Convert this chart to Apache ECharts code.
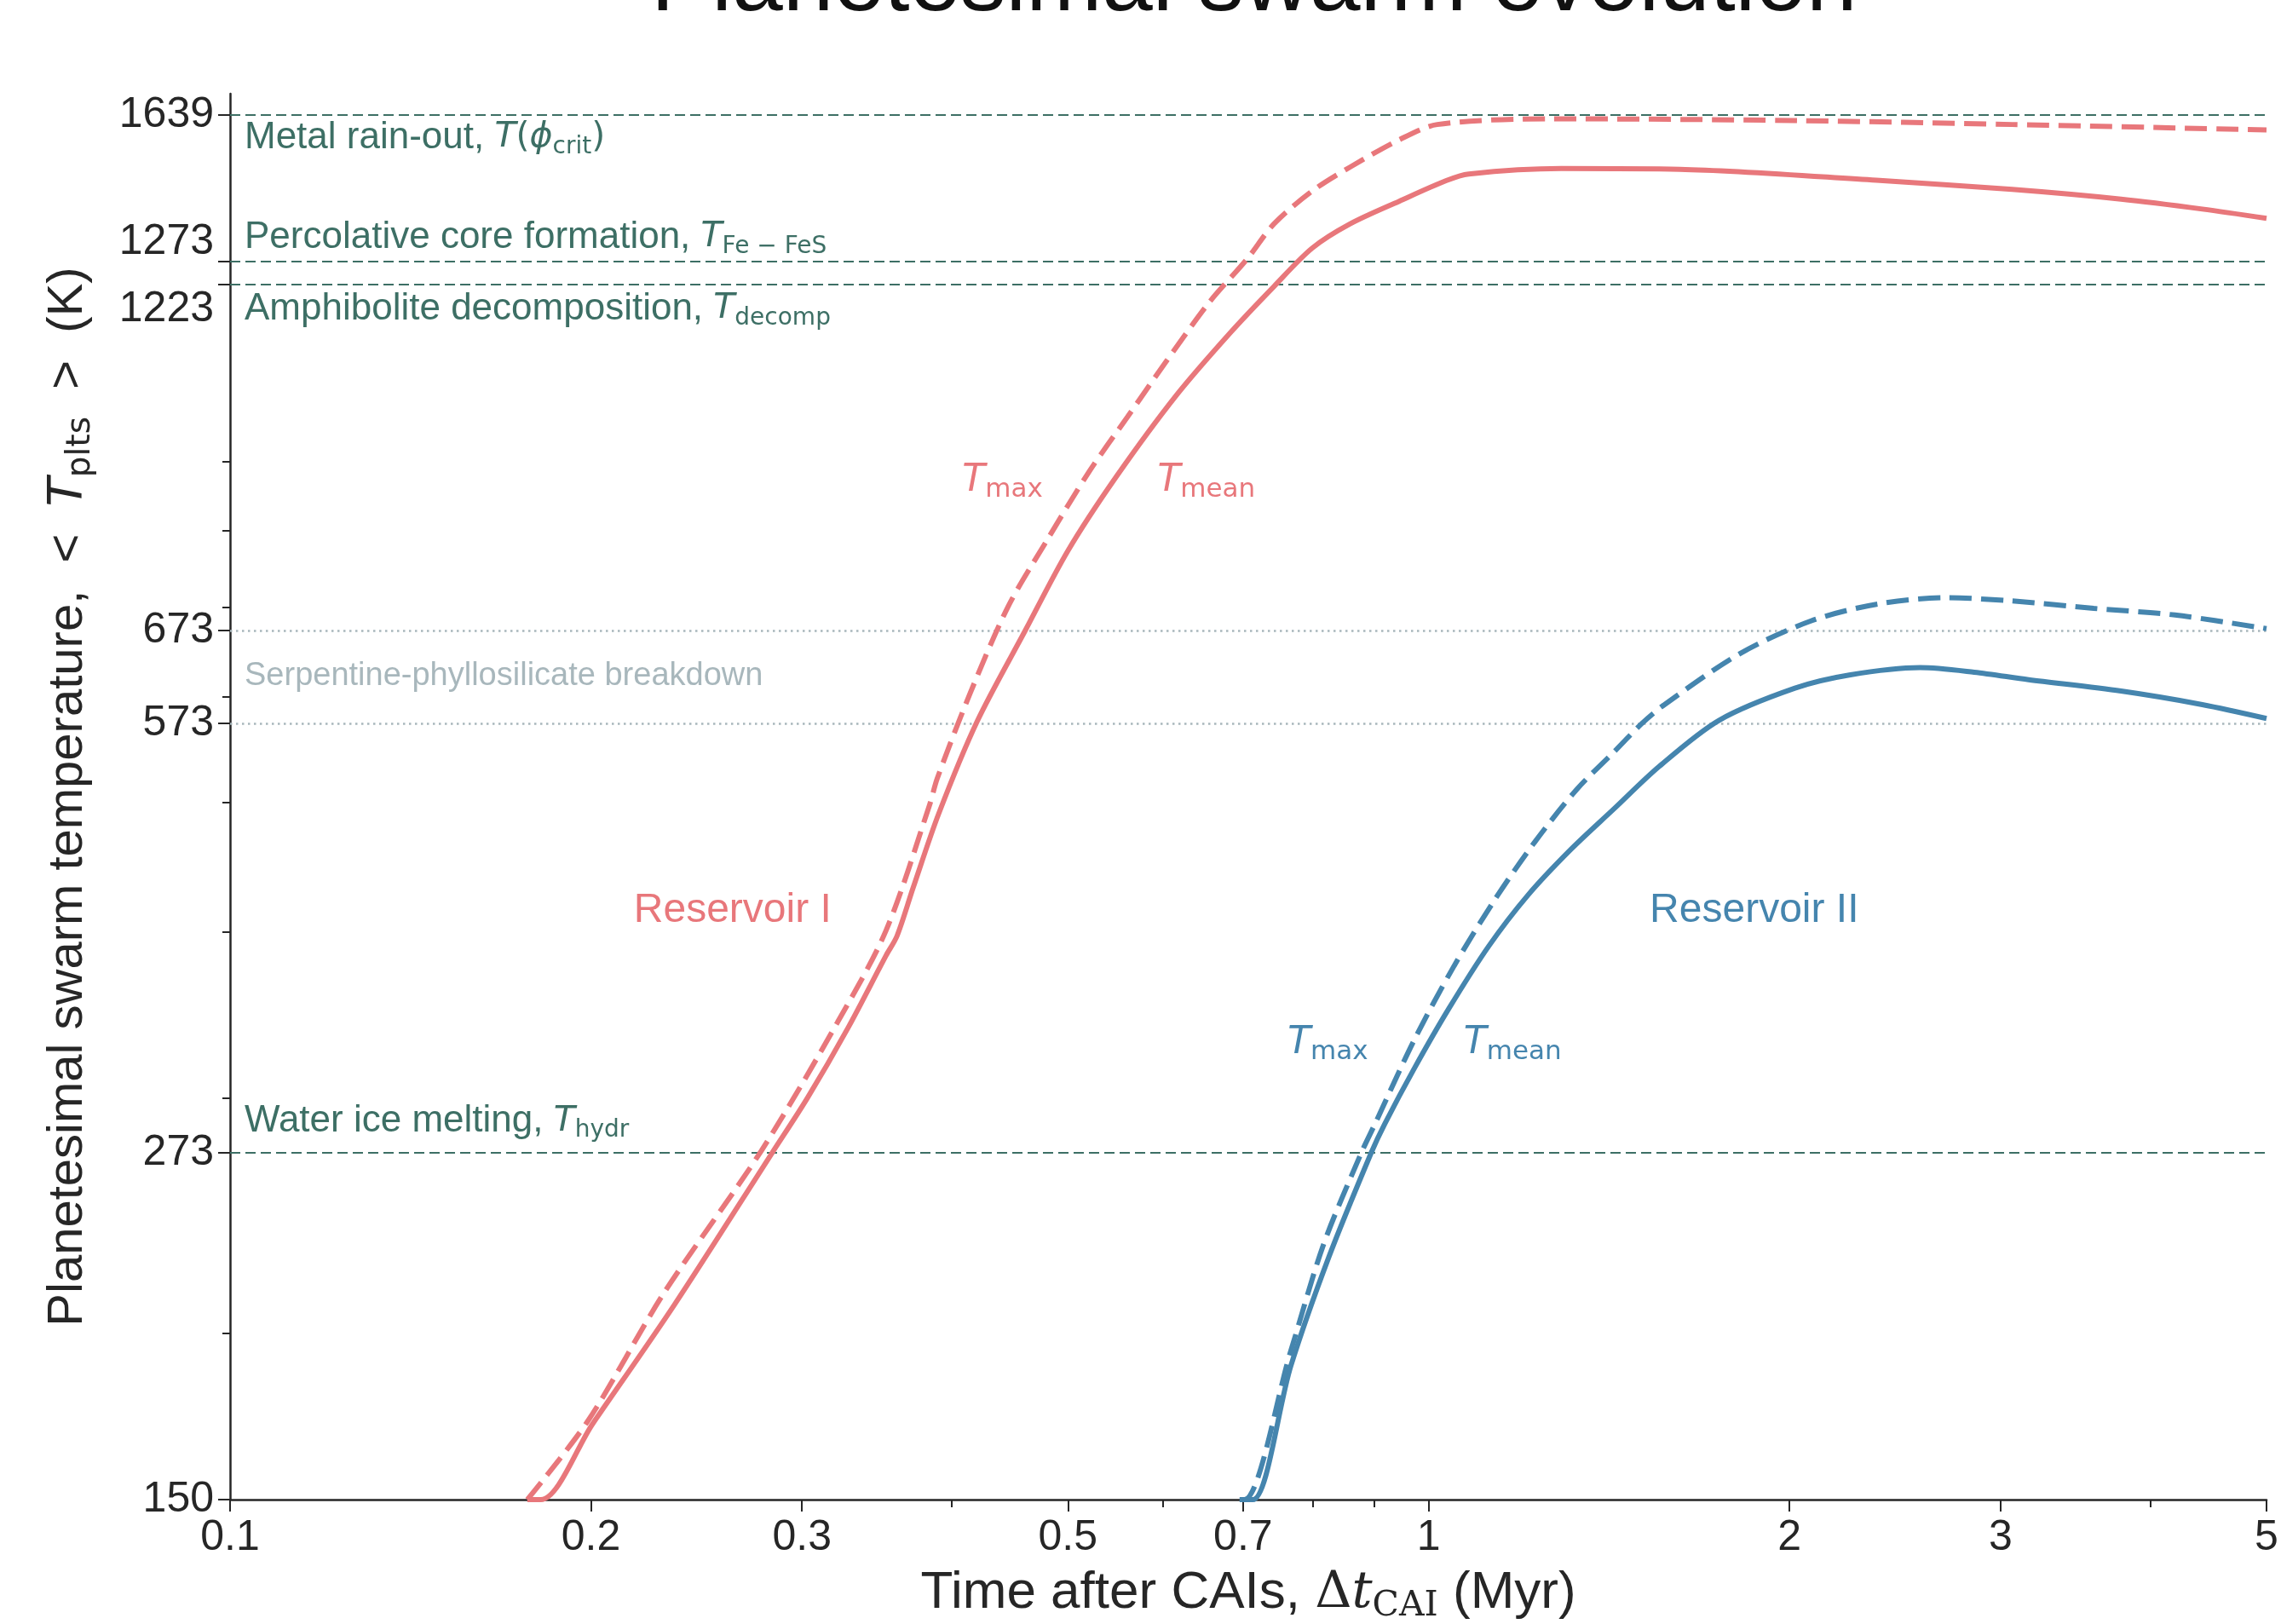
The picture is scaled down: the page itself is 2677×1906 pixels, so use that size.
<!DOCTYPE html>
<html>
<head>
<meta charset="utf-8">
<title>Planetesimal swarm evolution</title>
<script src="https://cdn.jsdelivr.net/npm/echarts@6/dist/echarts.min.js"></script>
<style>
  html, body { margin: 0; padding: 0; background: #fff; }
  #main { width: 2677px; height: 1906px; }
</style>
</head>
<body>
<div id="main"></div>
<script>
// Reservoir I (red), time after CAIs in Myr / temperature in K
var timeIMean = [0.177, 0.1817, 0.2007, 0.2348, 0.2833, 0.3031, 0.3279, 0.3527, 0.3601, 0.3716, 0.39, 0.42, 0.4608, 0.5, 0.549, 0.6159, 0.6836, 0.743, 0.7994, 0.8601, 0.945, 1.034, 1.08, 1.29, 1.62, 2.363, 3.068, 3.781, 4.42, 5];
var tempIMean = [150, 150, 171, 210, 273, 300, 339, 384, 397, 432, 490, 575, 673, 772, 878, 1010, 1126, 1219, 1302, 1358, 1412, 1463, 1480, 1494, 1492, 1464, 1441, 1417, 1393, 1371];
var timeIMax = [0.177, 0.199, 0.2299, 0.2775, 0.3212, 0.3527, 0.3834, 0.389, 0.4142, 0.4457, 0.4794, 0.5212, 0.5607, 0.6032, 0.6556, 0.7055, 0.743, 0.7994, 0.8601, 0.945, 1.0165, 1.263, 2.021, 3.068, 5];
var tempIMax = [150, 172, 214, 274, 342, 401, 498, 521, 603, 701, 784, 886, 973, 1069, 1185, 1278, 1358, 1437, 1498, 1570, 1612, 1628, 1623, 1612, 1597];

// Reservoir II (blue)
var timeIIMean = [0.6955, 0.7136, 0.7674, 0.8254, 0.8954, 0.919, 0.973, 1.039, 1.122, 1.21, 1.314, 1.426, 1.557, 1.746, 2.021, 2.243, 2.57, 2.852, 3.166, 3.781, 4.42, 5];
var tempIIMean = [150, 150, 189, 228, 273, 287, 316, 350, 390, 426, 461, 494, 532, 576, 609, 623, 631, 626, 618, 606, 592, 578];
var timeIIMax = [0.6955, 0.702, 0.7674, 0.817, 0.8786, 0.902, 0.973, 1.05, 1.134, 1.224, 1.328, 1.426, 1.506, 1.573, 1.821, 2.084, 2.363, 2.706, 3.068, 3.588, 4.195, 5];
var tempIIMax = [150, 150, 194, 233, 273, 287, 332, 377, 422, 466, 511, 545, 573, 592, 647, 684, 704, 712, 708, 699, 691, 675];

// reference temperatures (K)
var refTemps = [1639, 1273, 1223, 673, 573, 273];

// axis ticks
var xMajorTicks = [0.1, 0.2, 0.3, 0.5, 0.7, 1, 2, 3, 5];
var xMinorTicks = [0.4, 0.6, 0.8, 0.9, 4];
var yMajorTicks = [150, 273, 573, 673, 1223, 1273, 1639];
var yMinorTicks = [200, 300, 400, 500, 600, 700, 800, 900];

// where the text labels sit, in data coordinates [Myr, K]
var reservoirLabelAt = [[0.2626, 415], [1.869, 415]];
var maxLabelAt = [[0.441, 871], [0.8239, 330]];
var meanLabelAt = [[0.6524, 871], [1.175, 330]];

var RED = '#e8777b', BLUE = '#4585ae', TEAL = '#3d6f65', GREY = '#a8b7bc', INK = '#262626';
var SANS = '"Liberation Sans", Arial, Helvetica, sans-serif';
var MATH = '"DejaVu Sans", sans-serif';

var chart = echarts.init(document.getElementById('main'));

function zip(xs, ys) {
    return xs.map(function (x, i) { return [x, ys[i]]; });
}
function lg(v) { return Math.log10(v); }

// italic T with a subscript, like mathtext
function tRich(color, big, small, lh, textSize) {
    return {
        t: { fontFamily: MATH, fontStyle: 'italic', fontSize: big, color: color, lineHeight: lh },
        m: { fontFamily: MATH, fontSize: big, color: color, lineHeight: lh },
        n: { fontFamily: SANS, fontSize: textSize || big, color: color, lineHeight: lh },
        s: { fontFamily: MATH, fontSize: small, color: color, lineHeight: small, verticalAlign: 'bottom' }
    };
}
var refRich = tRich(TEAL, 41, 28, 50, 44);
var curveRich = tRich(RED, 44, 31, 52);
var curveRichB = tRich(BLUE, 44, 31, 52);

var refLabels = [
    { text: '{n|Metal rain-out, }{t|T}{m|(}{t|ϕ}{s|crit}{m|)}', pos: 'insideStartBottom', d: 2, color: TEAL },
    { text: '{n|Percolative core formation, }{t|T}{s|Fe − FeS}', pos: 'insideStartTop', d: 3, color: TEAL },
    { text: '{n|Amphibolite decomposition, }{t|T}{s|decomp}', pos: 'insideStartBottom', d: 4, color: TEAL },
    { text: 'Serpentine-phyllosilicate breakdown', pos: 'insideStartBottom', d: 32, color: GREY },
    null,
    { text: '{n|Water ice melting, }{t|T}{s|hydr}', pos: 'insideStartTop', d: 12, color: TEAL }
];

var refLineData = refTemps.map(function (v, i) {
    var lab = refLabels[i];
    var dotted = (v === 673 || v === 573);
    var item = {
        yAxis: v,
        lineStyle: {
            color: dotted ? GREY : TEAL,
            width: dotted ? 2.5 : 2.2,
            type: dotted ? [2.5, 4.5] : [12, 6]
        },
        label: { show: false }
    };
    if (lab) {
        item.label = {
            show: true,
            position: lab.pos,
            distance: [17, lab.d],
            formatter: lab.text,
            color: lab.color,
            fontFamily: SANS,
            fontSize: 38,
            lineHeight: 44,
            rich: refRich
        };
    }
    return item;
});

function textMark(at, text, rich, color, size) {
    return {
        coord: at,
        label: {
            show: true, position: 'inside', formatter: text,
            color: color, fontFamily: SANS, fontSize: size || 48,
            rich: rich
        }
    };
}

function curve(name, xs, ys, color, dashed) {
    return {
        name: name,
        type: 'line',
        xAxisIndex: 0,
        yAxisIndex: 0,
        data: zip(xs, ys),
        symbol: 'none',
        showSymbol: false,
        smooth: 0.3,
        clip: true,
        z: 3,
        lineStyle: { color: color, width: 6, type: dashed ? [26, 11] : 'solid', cap: 'butt' }
    };
}

var sIMean = curve('Reservoir I Tmean', timeIMean, tempIMean, RED, false);
var sIMax = curve('Reservoir I Tmax', timeIMax, tempIMax, RED, true);
var sIIMean = curve('Reservoir II Tmean', timeIIMean, tempIIMean, BLUE, false);
var sIIMax = curve('Reservoir II Tmax', timeIIMax, tempIIMax, BLUE, true);

sIMean.markLine = { symbol: 'none', silent: true, animation: false, z: 2, data: refLineData };
var markStyle = { symbolSize: 0, silent: true, animation: false };
sIMean.markPoint = Object.assign({ data: [
    textMark(reservoirLabelAt[0], 'Reservoir I', null, RED, 48),
    textMark(meanLabelAt[0], '{t|T}{s|mean}', curveRich, RED)
] }, markStyle);
sIMax.markPoint = Object.assign({ data: [
    textMark(maxLabelAt[0], '{t|T}{s|max}', curveRich, RED)
] }, markStyle);
sIIMean.markPoint = Object.assign({ data: [
    textMark(reservoirLabelAt[1], 'Reservoir II', null, BLUE, 48),
    textMark(meanLabelAt[1], '{t|T}{s|mean}', curveRichB, BLUE)
] }, markStyle);
sIIMax.markPoint = Object.assign({ data: [
    textMark(maxLabelAt[1], '{t|T}{s|max}', curveRichB, BLUE)
] }, markStyle);

var labelFont = { fontFamily: SANS, fontSize: 50, color: INK };

// overlay value axes in log10 space carry the hand-picked ticks
function tickAxis(lo, hi, pos, ticks, len, labels) {
    return {
        type: 'value',
        min: lg(lo),
        max: lg(hi),
        position: pos,
        offset: 0,
        axisLine: { show: false, onZero: false },
        splitLine: { show: false },
        axisTick: { show: true, length: len, customValues: ticks.map(lg), lineStyle: { color: INK, width: 2 } },
        axisLabel: labels ? Object.assign({ show: true, customValues: ticks.map(lg) }, labels) : { show: false }
    };
}

var option = {
    animation: false,
    backgroundColor: '#ffffff',
    title: {
        text: 'Planetesimal swarm evolution',
        left: 759,
        top: -76,
        textStyle: { fontFamily: SANS, fontSize: 107, fontWeight: 'normal', color: '#111' }
    },
    grid: { left: 270, right: 17, top: 110, bottom: 146, containLabel: false, outerBoundsMode: 'none' },
    xAxis: [
        {
            type: 'log', logBase: 10, min: 0.1, max: 5, position: 'bottom',
            axisLine: { onZero: false, lineStyle: { color: INK, width: 2.5 } },
            axisTick: { show: false }, axisLabel: { show: false }, splitLine: { show: false },
            minorTick: { show: false },
            name: 'Time after CAIs, {d|Δ}{t|t}{s|CAI} (Myr)',
            nameLocation: 'middle',
            nameGap: 74,
            nameTextStyle: {
                fontFamily: SANS, fontSize: 62, color: INK, lineHeight: 72,
                rich: {
                    d: { fontFamily: '"DejaVu Serif", serif', fontSize: 60, color: INK, lineHeight: 72 },
                    t: { fontFamily: '"DejaVu Serif", serif', fontStyle: 'italic', fontSize: 60, color: INK, lineHeight: 72 },
                    s: { fontFamily: '"DejaVu Serif", serif', fontSize: 41, color: INK, lineHeight: 41, verticalAlign: 'bottom' }
                }
            }
        },
        tickAxis(0.1, 5, 'bottom', xMajorTicks, 14, Object.assign({
            margin: 20,
            formatter: function (v) { return String(+Math.pow(10, v).toPrecision(2)); }
        }, labelFont)),
        tickAxis(0.1, 5, 'bottom', xMinorTicks, 9, null)
    ],
    yAxis: [
        {
            type: 'log', logBase: 10, min: 150, max: 1700, position: 'left',
            axisLine: { onZero: false, lineStyle: { color: INK, width: 2.5 } },
            axisTick: { show: false }, axisLabel: { show: false }, splitLine: { show: false },
            minorTick: { show: false },
            name: 'Planetesimal swarm temperature,  <  {t|T}{s|plts}  >  (K)',
            nameLocation: 'middle',
            nameGap: 156,
            nameTextStyle: {
                fontFamily: SANS, fontSize: 58, color: INK, lineHeight: 68,
                rich: {
                    t: { fontFamily: MATH, fontStyle: 'italic', fontSize: 56, color: INK, lineHeight: 68 },
                    s: { fontFamily: MATH, fontSize: 39, color: INK, lineHeight: 39, verticalAlign: 'bottom' }
                }
            }
        },
        tickAxis(150, 1700, 'left', yMajorTicks, 14, Object.assign({
            margin: 19,
            formatter: function (v) {
                var t = Math.round(Math.pow(10, v));
                if (t === 1273) return '{up|1273}';
                if (t === 1223) return '{dn|1223}';
                return String(t);
            },
            rich: {
                up: { fontFamily: SANS, fontSize: 50, color: INK, padding: [0, 0, 44, 0] },
                dn: { fontFamily: SANS, fontSize: 50, color: INK, padding: [58, 0, 0, 0] }
            }
        }, labelFont)),
        tickAxis(150, 1700, 'left', yMinorTicks, 9, null)
    ],
    series: [sIMean, sIMax, sIIMean, sIIMax]
};

chart.setOption(option);
</script>
</body>
</html>
